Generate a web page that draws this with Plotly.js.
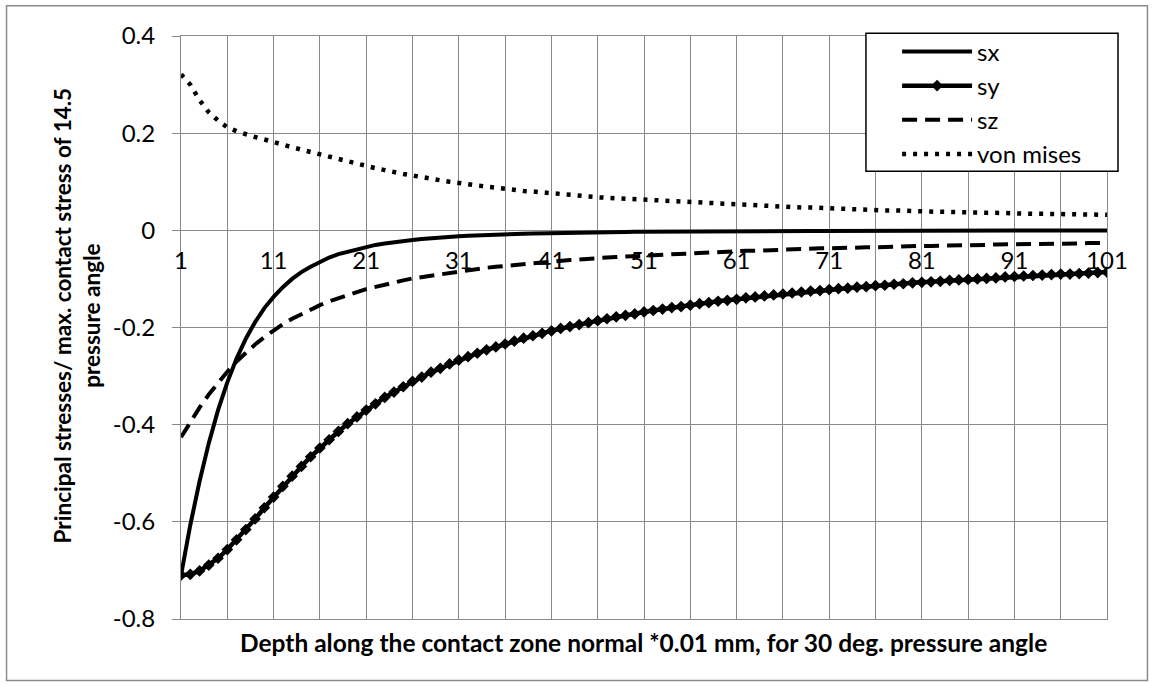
<!DOCTYPE html>
<html>
<head>
<meta charset="utf-8">
<script src="https://cdn.plot.ly/plotly-3.0.1.min.js"></script>
<style>
html,body{margin:0;padding:0;background:#fff;}
#chart{width:1154px;height:686px;}
</style>
</head>
<body>
<div id="chart"></div>
<script>
// ---------- data ----------
const depth = [
  1,2,3,4,5,6,7,8,9,10,11,12,13,14,15,16,17,18,19,20,
  21,22,23,24,25,26,27,28,29,30,31,32,33,34,35,36,37,38,39,40,
  41,42,43,44,45,46,47,48,49,50,51,52,53,54,55,56,57,58,59,60,
  61,62,63,64,65,66,67,68,69,70,71,72,73,74,75,76,77,78,79,80,
  81,82,83,84,85,86,87,88,89,90,91,92,93,94,95,96,97,98,99,100,101
];
const catTickVals = [1,11,21,31,41,51,61,71,81,91,101];
const catTickText = ["1","11","21","31","41","51","61","71","81","91","101"];
const yTickVals = [-0.8,-0.6,-0.4,-0.2,0,0.2,0.4];
const yTickText = ["-0.8","-0.6","-0.4","-0.2","0","0.2","0.4"];
const seriesNames = ["sx","sy","sz","von mises"];

const sx = [
  -0.710,-0.607,-0.517,-0.438,-0.370,-0.313,-0.264,-0.223,-0.189,-0.160,
  -0.137,-0.117,-0.100,-0.086,-0.075,-0.065,-0.056,-0.049,-0.044,-0.038,
  -0.034,-0.030,-0.027,-0.024,-0.022,-0.020,-0.018,-0.016,-0.015,-0.013,
  -0.012,-0.011,-0.010,-0.0094,-0.0087,-0.0080,-0.0074,-0.0068,-0.0064,-0.0059,
  -0.0055,-0.0052,-0.0048,-0.0045,-0.0042,-0.0039,-0.0037,-0.0035,-0.0033,-0.0031,
  -0.0029,-0.0028,-0.0026,-0.0025,-0.0024,-0.0022,-0.0021,-0.0020,-0.0019,-0.0018,
  -0.0017,-0.0016,-0.0016,-0.0015,-0.0014,-0.0014,-0.0013,-0.0013,-0.0012,-0.0012,
  -0.0011,-0.0011,-0.0010,-0.0010,-0.0010,-0.0009,-0.0009,-0.0009,-0.0008,-0.0008,
  -0.0007,-0.0007,-0.0007,-0.0007,-0.0006,-0.0006,-0.0006,-0.0006,-0.0005,-0.0005,
  -0.0005,-0.0005,-0.0005,-0.0005,-0.0004,-0.0004,-0.0004,-0.0004,-0.0004,-0.0004,
  -0.0004
];
const sy = [
  -0.710,-0.708,-0.701,-0.689,-0.675,-0.657,-0.637,-0.616,-0.594,-0.571,
  -0.549,-0.527,-0.506,-0.486,-0.466,-0.448,-0.431,-0.414,-0.398,-0.384,
  -0.370,-0.357,-0.344,-0.333,-0.322,-0.311,-0.302,-0.292,-0.284,-0.275,
  -0.267,-0.260,-0.253,-0.246,-0.240,-0.234,-0.228,-0.222,-0.217,-0.212,
  -0.207,-0.202,-0.198,-0.194,-0.190,-0.186,-0.182,-0.178,-0.175,-0.172,
  -0.168,-0.165,-0.162,-0.159,-0.157,-0.154,-0.151,-0.149,-0.146,-0.144,
  -0.142,-0.139,-0.137,-0.135,-0.133,-0.131,-0.129,-0.127,-0.125,-0.124,
  -0.122,-0.120,-0.119,-0.117,-0.116,-0.114,-0.113,-0.111,-0.110,-0.108,
  -0.107,-0.106,-0.105,-0.103,-0.102,-0.101,-0.100,-0.099,-0.098,-0.096,
  -0.095,-0.094,-0.093,-0.092,-0.091,-0.090,-0.090,-0.089,-0.088,-0.087,
  -0.086
];
const sz = [
  -0.426,-0.394,-0.365,-0.338,-0.314,-0.291,-0.270,-0.252,-0.235,-0.220,
  -0.206,-0.193,-0.182,-0.172,-0.162,-0.154,-0.146,-0.139,-0.133,-0.127,
  -0.121,-0.116,-0.111,-0.107,-0.103,-0.099,-0.096,-0.093,-0.090,-0.087,
  -0.084,-0.081,-0.079,-0.077,-0.075,-0.073,-0.071,-0.069,-0.067,-0.065,
  -0.064,-0.062,-0.061,-0.060,-0.058,-0.057,-0.056,-0.055,-0.054,-0.052,
  -0.051,-0.050,-0.049,-0.049,-0.048,-0.047,-0.046,-0.045,-0.044,-0.044,
  -0.043,-0.042,-0.042,-0.041,-0.040,-0.040,-0.039,-0.039,-0.038,-0.037,
  -0.037,-0.036,-0.036,-0.035,-0.035,-0.035,-0.034,-0.034,-0.033,-0.033,
  -0.032,-0.032,-0.032,-0.031,-0.031,-0.031,-0.030,-0.030,-0.029,-0.029,
  -0.029,-0.028,-0.028,-0.028,-0.028,-0.027,-0.027,-0.027,-0.026,-0.026,
  -0.026
];
const vonMises = [
  0.321,0.300,0.268,0.243,0.226,0.212,0.204,0.197,0.192,0.187,
  0.181,0.176,0.171,0.166,0.161,0.156,0.151,0.147,0.142,0.137,
  0.133,0.128,0.124,0.119,0.116,0.113,0.109,0.106,0.103,0.100,
  0.097,0.095,0.092,0.090,0.088,0.085,0.083,0.081,0.080,0.078,
  0.076,0.074,0.073,0.071,0.070,0.068,0.067,0.066,0.065,0.063,
  0.062,0.061,0.060,0.059,0.058,0.057,0.056,0.055,0.054,0.054,
  0.053,0.052,0.051,0.050,0.049,0.049,0.048,0.047,0.047,0.046,
  0.045,0.045,0.044,0.043,0.043,0.042,0.041,0.041,0.040,0.040,
  0.039,0.039,0.038,0.038,0.037,0.037,0.037,0.036,0.036,0.035,
  0.035,0.035,0.034,0.034,0.034,0.033,0.033,0.033,0.032,0.032,
  0.032
];
const xTitle = "Depth along the contact zone normal *0.01 mm, for 30 deg. pressure angle";
const yTitle = "Principal stresses/ max. contact stress of 14.5<br>pressure angle";

// ---------- styling ----------
const GRID = '#8a8a8a';
const FONT = 'Lato, "Open Sans", sans-serif';
const FS = 24;

const traces = [
  {x: depth, y: sx, name: seriesNames[0], type: 'scatter', mode: 'lines', legendgroup: 'g1',
   line: {color: '#000', width: 4}},
  {x: depth, y: sy, name: seriesNames[1], type: 'scatter', mode: 'lines+markers', legendgroup: 'g2',
   line: {color: '#000', width: 4.5}, marker: {symbol: 'diamond', size: 9, color: '#000'}},
  {x: depth, y: sz, name: seriesNames[2], type: 'scatter', mode: 'lines', legendgroup: 'g3',
   line: {color: '#000', width: 4, dash: '15px,8px'}},
  {x: depth, y: vonMises, name: seriesNames[3], type: 'scatter', mode: 'lines', legendgroup: 'g4',
   xaxis: 'x2', yaxis: 'y',
   line: {color: '#000', width: 4.5, dash: '4px,7px'}}
];

const layout = {
  width: 1154, height: 686,
  margin: {l: 181, r: 47, t: 36, b: 67, autoexpand: false},
  paper_bgcolor: '#ffffff', plot_bgcolor: '#ffffff',
  font: {family: FONT, size: FS, color: '#000'},
  showlegend: true,
  xaxis: {
    range: [1, 101], tickmode: 'linear', tick0: 1, dtick: 5,
    showticklabels: false, ticks: '',
    showgrid: true, gridcolor: GRID, gridwidth: 1,
    zeroline: false, showline: true, linecolor: GRID, linewidth: 1, mirror: true
  },
  xaxis2: {
    overlaying: 'x', anchor: 'free', position: 2/3, side: 'bottom',
    range: [1, 101], tickmode: 'array', tickvals: catTickVals, ticktext: catTickText,
    showgrid: false, zeroline: false, showline: false, ticks: '',
    ticklabelstandoff: 14, tickfont: {family: FONT, size: FS, color: '#000'}
  },
  yaxis: {
    range: [-0.8, 0.4], tickmode: 'array', tickvals: yTickVals, ticktext: yTickText,
    showgrid: true, gridcolor: GRID, gridwidth: 1,
    zeroline: false, showline: true, linecolor: GRID, linewidth: 1, mirror: true,
    ticks: 'outside', ticklen: 8, tickcolor: GRID, ticklabelstandoff: 12,
    tickfont: {family: FONT, size: FS, color: '#000'}
  },
  legend: {
    x: 0.7733, y: 1.0114, xanchor: 'left', yanchor: 'top',
    bgcolor: 'rgba(0,0,0,0)', borderwidth: 0,
    traceorder: 'grouped', tracegroupgap: 0, itemwidth: 70,
    font: {family: FONT, size: FS, color: '#000'}
  },
  shapes: [
    {type: 'rect', xref: 'paper', yref: 'paper', x0: 0.7397, x1: 1.0119, y0: 0.768, y1: 1.0046,
     fillcolor: '#ffffff', line: {color: '#000', width: 1.5}, layer: 'above'},
    {type: 'rect', xref: 'paper', yref: 'paper', x0: -0.1884, x1: 1.0437, y0: -0.1054, y1: 1.0518,
     fillcolor: 'rgba(0,0,0,0)', line: {color: '#8c8c8c', width: 1.5}, layer: 'below'}
  ],
  annotations: [
    {text: xTitle, xref: 'paper', yref: 'paper', x: 0.4995, y: -0.041,
     xanchor: 'center', yanchor: 'middle', showarrow: false,
     font: {family: FONT, size: 24.5, color: '#000', weight: 'bold'}},
    {text: yTitle, xref: 'paper', yref: 'paper', x: -0.1128, y: 0.52, textangle: -90,
     xanchor: 'center', yanchor: 'middle', showarrow: false,
     font: {family: FONT, size: 22.5, color: '#000', weight: 'bold'}}
  ]
};

Plotly.newPlot('chart', traces, layout, {displayModeBar: false, staticPlot: true});
</script>
</body>
</html>
